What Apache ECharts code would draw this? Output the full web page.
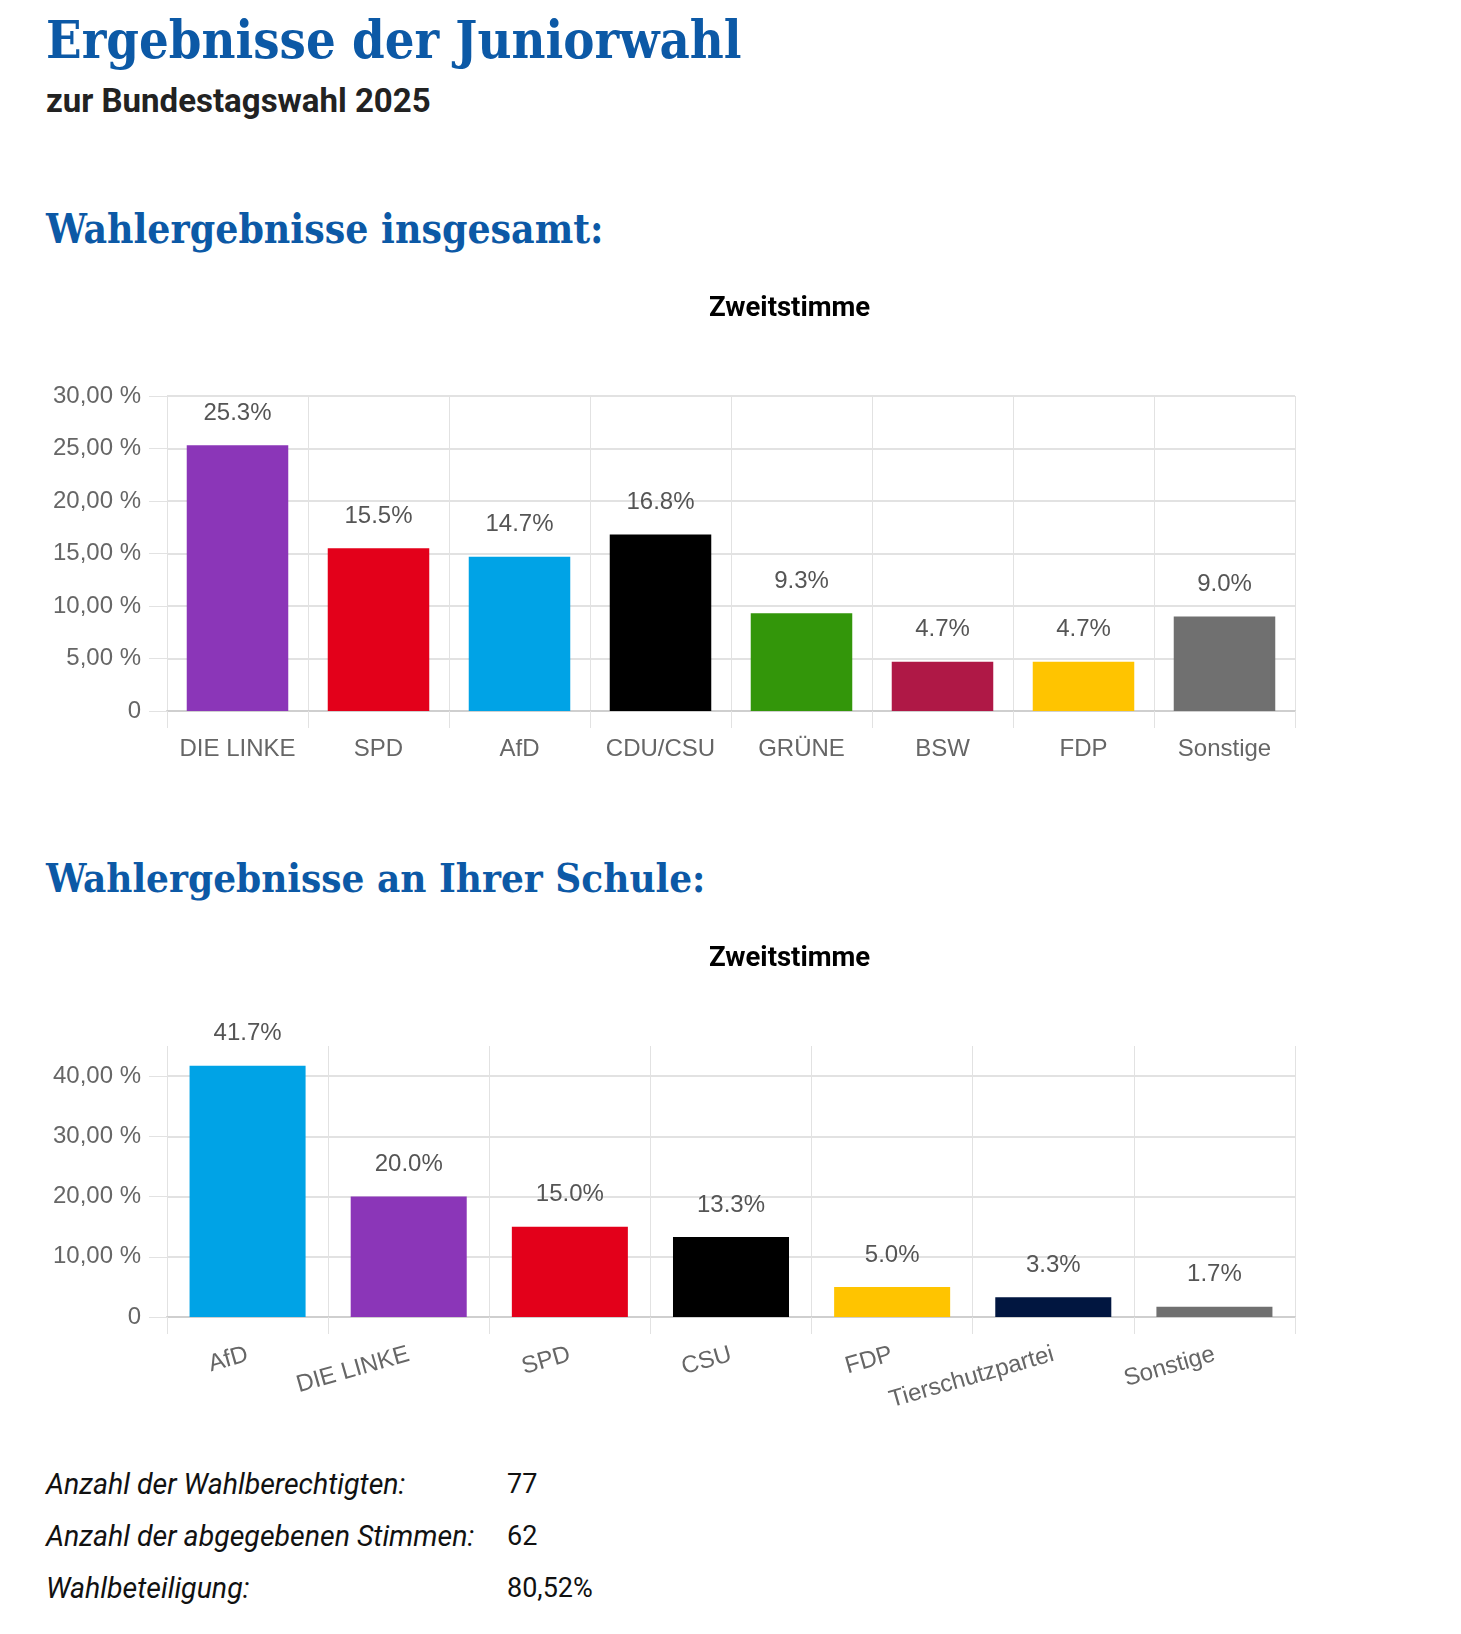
<!DOCTYPE html>
<html>
<head>
<meta charset="utf-8">
<script src="https://cdn.jsdelivr.net/npm/echarts@6/dist/echarts.min.js"></script>
<style>
  html, body { margin: 0; padding: 0; background: #fff; }
  body { width: 1461px; height: 1634px; position: relative; overflow: hidden; }
  .h { position: absolute; left: 46px; margin: 0; line-height: 1; white-space: nowrap; }
  .serif { font-family: "DejaVu Serif", serif; font-stretch: condensed; font-weight: bold; color: #0c59a6; }
  #title { top: 14px; font-size: 52px; }
  #sub { top: 84px; font-family: Roboto, sans-serif; font-weight: bold; font-size: 33px; color: #222; }
  #h1 { top: 209px; font-size: 40.5px; }
  #h2 { top: 858px; font-size: 40px; }
  .chart { position: absolute; left: 0; width: 1461px; }
  #c1 { top: 260px; height: 520px; }
  #c2 { top: 900px; height: 540px; }
  #stats { position: absolute; left: 46px; top: 1471px; font-family: Roboto, sans-serif; font-size: 28.5px; font-weight: 400; color: #111; }
  #stats .row { height: 52px; line-height: 1; position: relative; white-space: nowrap; }
  #stats .k { font-style: italic; }
  #stats .v { position: absolute; left: 461px; top: 0; font-size: 27px; }
</style>
</head>
<body>
<div class="h serif" id="title">Ergebnisse der Juniorwahl</div>
<div class="h" id="sub">zur Bundestagswahl 2025</div>
<div class="h serif" id="h1">Wahlergebnisse insgesamt:</div>
<div id="c1" class="chart"></div>
<div class="h serif" id="h2">Wahlergebnisse an Ihrer Schule:</div>
<div id="c2" class="chart"></div>
<div id="stats"></div>
<script>
// Wahlergebnisse insgesamt
const parties1 = ['DIE LINKE', 'SPD', 'AfD', 'CDU/CSU', 'GRÜNE', 'BSW', 'FDP', 'Sonstige'];
const values1 = [25.3, 15.5, 14.7, 16.8, 9.3, 4.7, 4.7, 9.0];
const colors1 = ['#8b36b8', '#e3001a', '#00a3e6', '#000000', '#33960a', '#af1846', '#ffc400', '#707070'];
const yTicks1 = [0, 5, 10, 15, 20, 25, 30];

// Wahlergebnisse an Ihrer Schule
const parties2 = ['AfD', 'DIE LINKE', 'SPD', 'CSU', 'FDP', 'Tierschutzpartei', 'Sonstige'];
const values2 = [41.7, 20.0, 15.0, 13.3, 5.0, 3.3, 1.7];
const colors2 = ['#00a3e6', '#8b36b8', '#e3001a', '#000000', '#ffc400', '#011640', '#707070'];
const yTicks2 = [0, 10, 20, 30, 40];

const statLabels = ['Anzahl der Wahlberechtigten:', 'Anzahl der abgegebenen Stimmen:', 'Wahlbeteiligung:'];
const statValues = ['77', '62', '80,52%'];

const stats = document.getElementById('stats');
statLabels.forEach(function (k, i) {
  const row = document.createElement('div');
  row.className = 'row';
  row.innerHTML = '<span class="k">' + k + '</span><span class="v">' + statValues[i] + '</span>';
  stats.appendChild(row);
});

const gridColor = '#e2e2e2';
const txt = '"Liberation Sans", Arial, sans-serif';

function pct(v) {
  return v === 0 ? '0' : v.toFixed(2).replace('.', ',') + ' %';
}

function makeOption(cats, vals, cols, ticks, max, interval, gridTop, gridBottom, titleTop, rotate, labelMargin) {
  return {
    animation: false,
    title: {
      text: 'Zweitstimme',
      left: 704,
      top: titleTop,
      textStyle: { fontFamily: 'Roboto, sans-serif', fontWeight: 'bold', fontSize: 27.5, color: '#000', lineHeight: 27 }
    },
    grid: { left: 167, right: 166, top: gridTop, bottom: gridBottom, containLabel: false },
    xAxis: {
      type: 'category',
      data: cats,
      boundaryGap: true,
      axisLine: { lineStyle: { color: '#cfcfcf', width: 2 } },
      axisTick: { show: true, length: 17, lineStyle: { color: gridColor } },
      splitLine: { show: true, lineStyle: { color: gridColor } },
      axisLabel: {
        interval: 0, rotate: rotate, margin: labelMargin,
        color: '#666', fontSize: 24, fontFamily: txt
      }
    },
    yAxis: {
      type: 'value',
      min: 0, max: max, interval: interval,
      axisLine: { show: false },
      axisTick: { show: true, length: 18, lineStyle: { color: gridColor }, customValues: ticks },
      splitLine: { show: true, lineStyle: { color: gridColor, width: 2 } },
      axisLabel: {
        margin: 26, color: '#666', fontSize: 24, fontFamily: txt,
        customValues: ticks, formatter: pct
      }
    },
    series: [{
      type: 'bar',
      barCategoryGap: '28%',
      data: vals.map(function (v, i) { return { value: v, itemStyle: { color: cols[i] } }; }),
      label: {
        show: true, position: 'top', distance: 20,
        color: '#555', fontSize: 24, fontFamily: txt,
        formatter: function (p) { return p.value.toFixed(1) + '%'; }
      }
    }]
  };
}

const c1 = echarts.init(document.getElementById('c1'));
c1.setOption(makeOption(parties1, values1, colors1, yTicks1, 30, 5, 136, 69, 31, 0, 26));

const c2 = echarts.init(document.getElementById('c2'));
c2.setOption(makeOption(parties2, values2, colors2, yTicks2, 45, 10, 146, 123, 41, 16, 37));
</script>
</body>
</html>
